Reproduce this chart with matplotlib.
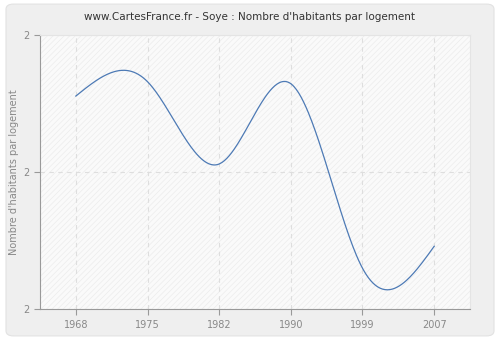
import matplotlib
matplotlib.use('Agg')
import matplotlib.pyplot as plt
import numpy as np
from matplotlib.patches import FancyBboxPatch, Rectangle

years = ['1968', '1975', '1982', '1990', '1999', '2007']
habitants = [2.311, 2.332, 2.212, 2.329, 2.060, 2.092]
y_ticks = [2.0, 2.2, 2.4]


def natural_spline(x, y, n=300):
    # spline cubique naturelle pour lisser la courbe entre les points
    x = np.asarray(x, float)
    y = np.asarray(y, float)
    k = len(x)
    h = np.diff(x)
    A = np.zeros((k, k))
    b = np.zeros(k)
    A[0, 0] = A[-1, -1] = 1
    for i in range(1, k - 1):
        A[i, i - 1] = h[i - 1]
        A[i, i] = 2 * (h[i - 1] + h[i])
        A[i, i + 1] = h[i]
        b[i] = 3 * ((y[i + 1] - y[i]) / h[i] - (y[i] - y[i - 1]) / h[i - 1])
    c = np.linalg.solve(A, b)
    xs = np.linspace(x[0], x[-1], n)
    idx = np.clip(np.searchsorted(x, xs) - 1, 0, k - 2)
    dx = xs - x[idx]
    bb = (y[idx + 1] - y[idx]) / h[idx] - h[idx] * (2 * c[idx] + c[idx + 1]) / 3
    dd = (c[idx + 1] - c[idx]) / (3 * h[idx])
    ys = y[idx] + bb * dx + c[idx] * dx ** 2 + dd * dx ** 3
    return xs, ys


plt.rcParams['hatch.linewidth'] = 0.5

fig = plt.figure(figsize=(5, 3.4), dpi=100, facecolor='white')
bg = FancyBboxPatch((0.012, 0.012), 0.976, 0.976,
                    boxstyle='round,pad=0,rounding_size=0.015',
                    transform=fig.transFigure, facecolor='#efefef',
                    edgecolor='#e2e2e2', linewidth=0.8, zorder=-10)
fig.patches.append(bg)

ax = fig.add_axes([0.08, 0.09, 0.86, 0.807])
ax.set_facecolor('#fafafa')
ax.add_patch(Rectangle((0, 0), 1, 1, transform=ax.transAxes, facecolor='none',
                       edgecolor='#ececec', hatch='//////', linewidth=0, zorder=0))

xpos = np.arange(len(years))
xs, ys = natural_spline(xpos, habitants)
ax.plot(xs, ys, color='#4d7ab5', linewidth=0.9, zorder=3)

ax.set_xlim(-0.5, len(years) - 0.5)
ax.set_ylim(y_ticks[0], y_ticks[-1])
ax.set_xticks(xpos)
ax.set_xticklabels(years)
ax.set_yticks(y_ticks)
ax.set_yticklabels(['%.0f' % v for v in y_ticks])

ax.grid(True, color='#dedede', linestyle=(0, (4, 4)), linewidth=0.8)
ax.set_axisbelow(True)
for s in ['left', 'bottom']:
    ax.spines[s].set_color('#999999')
for s in ['top', 'right']:
    ax.spines[s].set_color('#e4e4e4')
ax.tick_params(length=4, width=0.8, colors='#999999', labelcolor='#888888', labelsize=7)

ax.set_ylabel("Nombre d'habitants par logement", fontsize=7, color='#888888', labelpad=3)
fig.text(0.5, 0.95, "www.CartesFrance.fr - Soye : Nombre d'habitants par logement",
         fontsize=7.5, color='#333333', ha='center', va='center')

fig.savefig('out.png', dpi=100, facecolor=fig.get_facecolor())
